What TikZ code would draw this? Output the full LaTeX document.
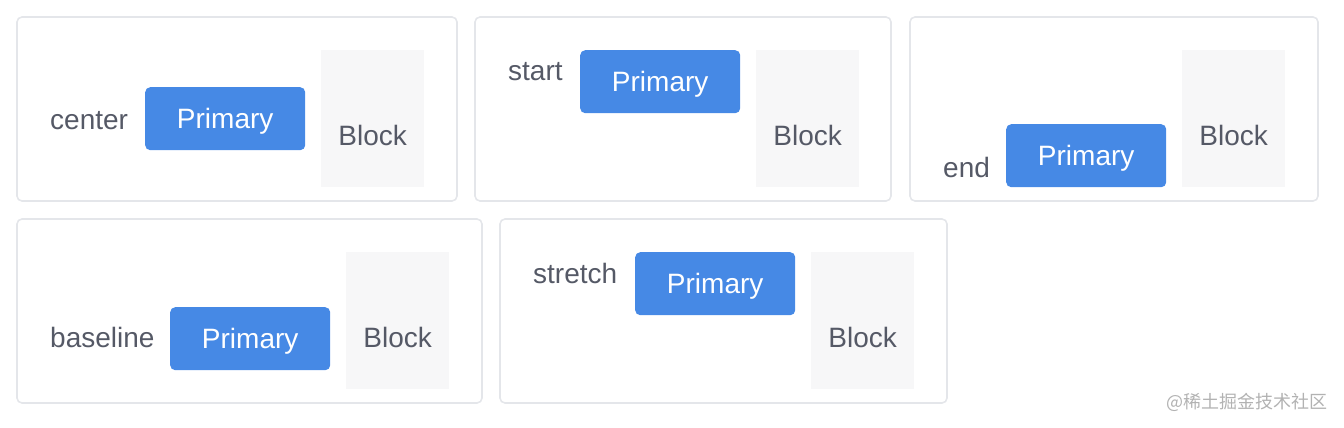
\documentclass[tikz,border=0pt]{standalone}
\usepackage{fontspec}
\setmainfont{Liberation Sans}
\newfontfamily\cjkfont{Noto Sans CJK SC}
\definecolor{framegray}{HTML}{E4E6EA}
\definecolor{textgray}{HTML}{555966}
\definecolor{primaryblue}{HTML}{4689E5}
\definecolor{blockgray}{HTML}{F7F7F8}
\definecolor{markgray}{HTML}{B2B2B2}

\begin{document}
\begin{tikzpicture}[x=1pt, y=-1pt,
		panel/.style={draw=framegray, line width=1.6pt, rounded corners=5pt},
		word/.style={anchor=base west, inner sep=0pt, text=textgray, font=\fontsize{28}{28}\selectfont},
		primary/.style={anchor=north west, fill=primaryblue, rounded corners=5pt, inner sep=0pt, minimum width=160pt, minimum height=63pt, text=white, text height=20pt, text depth=0pt, font=\fontsize{28}{28}\selectfont},
		blockbox/.style={anchor=north west, fill=blockgray, inner sep=0pt, minimum width=103pt, minimum height=137pt},
		blocktext/.style={anchor=base, inner sep=0pt, text=textgray, font=\fontsize{28}{28}\selectfont}]
			\useasboundingbox (0,0) rectangle (1344,428);
			
			% the five frames
			\foreach \x/\y/\xx/\yy in {17/17/457/201, 475/17/891/201, 910/17/1318/201, 17/219/482/403, 500/219/947/403}{
				\draw[panel] (\x,\y) rectangle (\xx,\yy);
			}
			
			% center
			\node[word] (lab-center) at (50,129) {center};
			\node[primary] (btn-center) at (145,87) {Primary};
			\node[blockbox] (blk-center) at (321,50) {};
			\node[blocktext] (txt-center) at ([yshift=-95pt]blk-center.north) {Block};
			
			% start
			\node[word] (lab-start) at (508,81) {start};
			\node[primary] (btn-start) at (580,50) {Primary};
			\node[blockbox] (blk-start) at (756,50) {};
			\node[blocktext] (txt-start) at ([yshift=-95pt]blk-start.north) {Block};
			
			% end
			\node[word] (lab-end) at (943,177) {end};
			\node[primary] (btn-end) at (1006,124) {Primary};
			\node[blockbox] (blk-end) at (1182,50) {};
			\node[blocktext] (txt-end) at ([yshift=-95pt]blk-end.north) {Block};
			
			% baseline
			\node[word] (lab-baseline) at (50,347) {baseline};
			\node[primary] (btn-baseline) at (170,307) {Primary};
			\node[blockbox] (blk-baseline) at (346,252) {};
			\node[blocktext] (txt-baseline) at ([yshift=-95pt]blk-baseline.north) {Block};
			
			% stretch
			\node[word] (lab-stretch) at (533,283) {stretch};
			\node[primary] (btn-stretch) at (635,252) {Primary};
			\node[blockbox] (blk-stretch) at (811,252) {};
			\node[blocktext] (txt-stretch) at ([yshift=-95pt]blk-stretch.north) {Block};
			
			\node[anchor=base east, inner sep=0pt, text=markgray, font=\cjkfont\fontsize{18}{18}\selectfont] (mark) at (1328,408) {@稀土掘金技术社区};
		\end{tikzpicture}
\end{document}
